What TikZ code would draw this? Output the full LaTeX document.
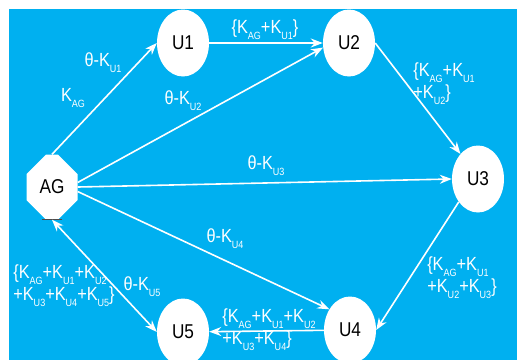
\documentclass[tikz,border=0pt]{standalone}
\usepackage{fontspec}
\setmainfont{Liberation Sans}[FakeStretch=0.86]
\usepackage{tikz}
\usetikzlibrary{shapes.geometric,shapes.misc,arrows.meta}
\definecolor{skyblue}{RGB}{0,176,240}
\newcommand\Ks[1]{K\raisebox{-6pt}{\fontsize{10.5}{10.5}\selectfont #1}}

\begin{document}
\begin{tikzpicture}[x=1pt,y=-1pt,
  user/.style={ellipse, fill=white, minimum width=52pt, minimum height=67pt, inner sep=0pt, font=\fontsize{20}{20}\selectfont},
  agent/.style={chamfered rectangle, fill=white, minimum width=51pt, minimum height=65pt,
    chamfered rectangle xsep=13pt, chamfered rectangle ysep=17pt, inner sep=0pt, font=\fontsize{20}{20}\selectfont},
  lbl/.style={text=white, font=\fontsize{19}{22}\selectfont, align=left, inner sep=0pt},
  arr/.style={white, line width=1.6pt, -{Stealth[length=12pt,width=9pt]}},
  dbl/.style={arr, {Stealth[length=12pt,width=9pt]}-{Stealth[length=12pt,width=9pt]}}]
 \useasboundingbox (0,0) rectangle (517,360);
 \fill[skyblue] (9,9) rectangle (517,360);
 % agent and users
 \node[agent] (ag) at (52,187) {AG};
 \draw[gray!60!black, line width=1pt] ([xshift=-10pt]ag.south) -- ([xshift=10pt]ag.south);
 \node[user] (u1) at (183,43)  {U1};
 \node[user] (u2) at (349,43)  {U2};
 \node[user] (u3) at (478,179) {U3};
 \node[user] (u4) at (350,330) {U4};
 \node[user] (u5) at (183,332) {U5};
 % arrows
 \draw[arr] (ag.north) -- (u1.west);
 \draw[arr] (ag.10) -- (u2.190);
 \draw[arr] (ag.east) -- (u3.west);
 \draw[arr] (ag.-10) -- (u4.135);
 \draw[dbl] (ag.south) -- (u5.west);
 \draw[arr] (u1) -- (u2);
 \draw[arr] (u2.east) -- (u3.125);
 \draw[arr] (u3.230) -- (u4.east);
 \draw[arr] (u4) -- (u5);
 % labels
 \node[lbl] (kag) at (73,98)  {\Ks{AG}};
 \node[lbl] (t1) at (103,63)  {θ-\Ks{U1}};
 \node[lbl] (t2) at (183,101) {θ-\Ks{U2}};
 \node[lbl] (t3) at (266,166) {θ-\Ks{U3}};
 \node[lbl] (t4) at (225,239) {θ-\Ks{U4}};
 \node[lbl] (t5) at (142,287) {θ-\Ks{U5}};
 \node[lbl] (s12) at (265,30) {\{\Ks{AG}+\Ks{U1}\}};
 \node[lbl] (s23) at (444,84) {\{\Ks{AG}+\Ks{U1}\\+\Ks{U2}\}};
 \node[lbl] (s34) at (462,278) {\{\Ks{AG}+\Ks{U1}\\+\Ks{U2}+\Ks{U3}\}};
 \node[lbl] (s45) at (269,330) {\{\Ks{AG}+\Ks{U1}+\Ks{U2}\\+\Ks{U3}+\Ks{U4}\}};
 \node[lbl] (s5) at (64,286) {\{\Ks{AG}+\Ks{U1}+\Ks{U2}\\+\Ks{U3}+\Ks{U4}+\Ks{U5}\}};
\end{tikzpicture}
\end{document}
